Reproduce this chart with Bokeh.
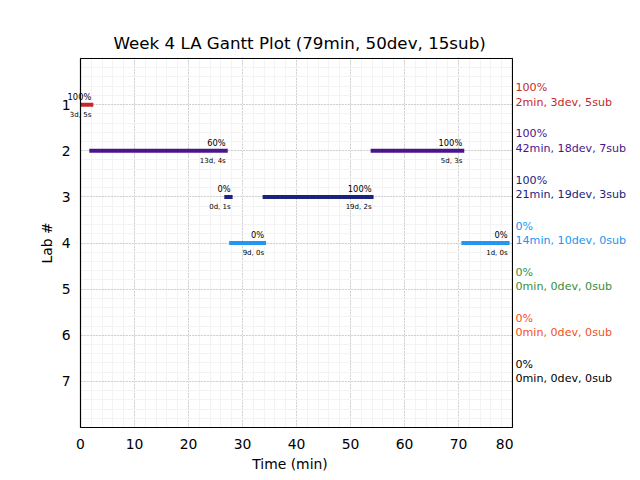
from bokeh.plotting import figure
from bokeh.layouts import row
from bokeh.models import Range1d, FixedTicker, ColumnDataSource, LabelSet
from bokeh.core.properties import value
from bokeh.embed import file_html
from bokeh.resources import INLINE

# ---- data ----
labs = [1, 2, 3, 4, 5, 6, 7]
lab_colors = ["#c62828", "#4a148c", "#1a237e", "#2196f3", "#388e3c", "#f4511e", "#000000"]
lab_pct = ["100%", "100%", "100%", "0%", "0%", "0%", "0%"]
lab_summary = ["2min, 3dev, 5sub", "42min, 18dev, 7sub", "21min, 19dev, 3sub",
               "14min, 10dev, 0sub", "0min, 0dev, 0sub", "0min, 0dev, 0sub", "0min, 0dev, 0sub"]

bar_lab = [1, 2, 2, 3, 3, 4, 4]
bar_start = [0.0, 2.0, 54.1, 27.0, 34.1, 27.9, 70.9]
bar_end = [2.0, 26.9, 70.7, 27.8, 53.9, 34.0, 79.1]
bar_pct = ["100%", "60%", "100%", "0%", "100%", "0%", "0%"]
bar_dur = ["3d, 5s", "13d, 4s", "5d, 3s", "0d, 1s", "19d, 2s", "9d, 0s", "1d, 0s"]

title = "Week 4 LA Gantt Plot (79min, 50dev, 15sub)"
x_ticks = [0, 10, 20, 30, 40, 50, 60, 70, 80]
x_max = 80
y_max = 8

FONT = "DejaVu Sans"
AX_W = 432          # pixel width of the 0..80 axis box
AX_H = 369          # pixel height of the 0..8 axis box
STRIP = 14          # blank strip left of x=0 so labels can overflow the axis box
PAD = 1             # pixel padding so the box outline is not clipped

xu = x_max / AX_W   # data units per pixel (x)
yu = y_max / AX_H   # data units per pixel (y)

y_range = Range1d(y_max + PAD * yu, -PAD * yu)

bar_colors = [lab_colors[labs.index(l)] for l in bar_lab]
bars = ColumnDataSource(dict(lab=bar_lab, start=bar_start, end=bar_end,
                             pct=bar_pct, dur=bar_dur, color=bar_colors))


def style_axis(ax):
    ax.axis_line_color = None
    ax.major_tick_line_color = None
    ax.minor_tick_line_color = None
    ax.major_tick_out = 0
    ax.minor_tick_out = 0
    ax.major_tick_in = 0
    ax.minor_tick_in = 0
    ax.major_label_text_font = FONT
    ax.major_label_text_font_size = "13.9px"
    ax.major_label_text_color = "black"
    ax.axis_label_text_font = FONT
    ax.axis_label_text_font_size = "13.9px"
    ax.axis_label_text_font_style = "normal"
    ax.axis_label_text_color = "black"


# ---- main plot ----
x_range = Range1d(-STRIP * xu, x_max + PAD * xu)
p = figure(frame_width=AX_W + STRIP + PAD, frame_height=AX_H + 2 * PAD,
           x_range=x_range, y_range=y_range,
           output_backend="svg", toolbar_location=None, title=title)
p.min_border_left = 80 - STRIP
p.min_border_right = 0
p.min_border_top = 58 - PAD
p.min_border_bottom = 45 - PAD
p.background_fill_color = "white"
p.border_fill_color = "white"
p.outline_line_color = None

p.title.text_font = FONT
p.title.text_font_size = "16.7px"
p.title.text_font_style = "normal"
p.title.align = "left"
p.title.offset = 47
p.title.text_color = "black"

p.xaxis.ticker = FixedTicker(ticks=x_ticks, minor_ticks=[v for v in range(0, 81, 2)])
p.yaxis.ticker = FixedTicker(ticks=labs, minor_ticks=[i / 5 for i in range(0, 41)])
for ax in (p.xaxis[0], p.yaxis[0]):
    style_axis(ax)
p.xaxis.bounds = (0, x_max)
p.xaxis.axis_label = "Time (min)"
p.yaxis.axis_label = "Lab #"
p.xaxis.major_label_standoff = 11 - PAD
p.yaxis.major_label_standoff = 10 - STRIP
p.xaxis.axis_label_standoff = 4
p.yaxis.axis_label_standoff = 4

for g in (p.xgrid[0], p.ygrid[0]):
    g.grid_line_color = "#b0b0b0"
    g.grid_line_dash = "1 2"
    g.grid_line_width = 1
    g.minor_grid_line_color = "#f3f3f3"
    g.minor_grid_line_width = 1

# bars
p.segment(x0="start", y0="lab", x1="end", y1="lab", source=bars,
          line_color="color", line_width=4, line_cap="square")
# blank strip left of the axis box (hides grid lines and bar caps there)
p.quad(left=[x_range.start], right=[0], top=[y_range.end], bottom=[y_range.start],
       fill_color="white", line_color=None)
# the axis box
p.quad(left=[0], right=[x_max], top=[0], bottom=[y_max],
       fill_color=None, line_color="black", line_width=1.2)

p.add_layout(LabelSet(x="end", y="lab", text="pct", source=bars, level="overlay",
                      text_align="right", text_baseline="alphabetic",
                      y_offset=5, text_font=value(FONT), text_font_size=value("8.3px"),
                      text_color="black"))
p.add_layout(LabelSet(x="end", y="lab", text="dur", source=bars, level="overlay",
                      text_align="right", text_baseline="top",
                      y_offset=-6, text_font=value(FONT), text_font_size=value("7px"),
                      text_color="black"))

# ---- right strip: per-lab summaries ----
side = figure(frame_width=126, frame_height=AX_H + 2 * PAD,
              x_range=Range1d(x_max, x_max + 20), y_range=y_range,
              output_backend="svg", toolbar_location=None)
side.min_border_left = 0
side.min_border_right = 0
side.min_border_top = 58 - PAD
side.min_border_bottom = 45 - PAD
side.axis.visible = False
side.grid.visible = False
side.outline_line_color = None
side.background_fill_color = "white"
side.border_fill_color = "white"

side_src = ColumnDataSource(dict(x=[x_max] * len(labs), lab=labs,
                                 txt=[a + "\n" + b for a, b in zip(lab_pct, lab_summary)],
                                 color=lab_colors))
side.text(x="x", y="lab", text="txt", source=side_src,
          x_offset=2, y_offset=4,
          text_align="left", text_baseline="bottom",
          text_font=value(FONT), text_font_size=value("11.1px"),
          text_line_height=1.1, text_color="color")

layout = row(p, side)
open("out.html", "w").write(file_html(layout, INLINE))
